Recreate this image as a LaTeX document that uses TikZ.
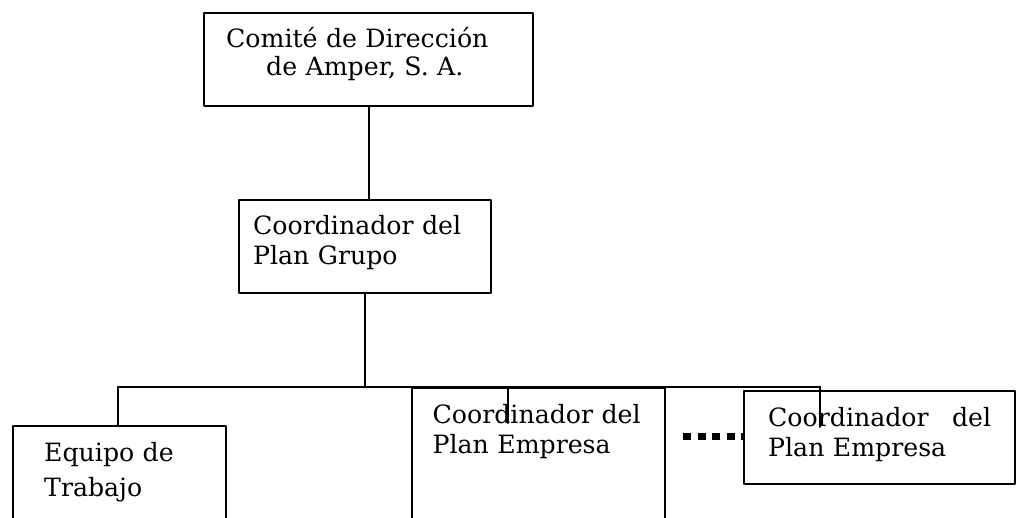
\documentclass[tikz,border=0pt]{standalone}
\usepackage{fontspec}
\setmainfont{DejaVu Serif}
\usepackage{tikz}

\begin{document}
\begin{tikzpicture}[line cap=round,line join=round,x=0.5pt,y=-0.5pt,
  orgbox/.style={draw,line width=1.2pt,anchor=north west,align=left,font=\fontsize{12.6}{15}\selectfont},
  link/.style={line width=1.pt}]
\path[use as bounding box,clip] (0,0) rectangle (1022,518);
\node[orgbox,inner xsep=11pt,text width=142.5pt,minimum height=46.5pt,text depth=22pt,font=\fontsize{12.6}{14}\selectfont] (comite) at (203,12) {Comité de Dirección\\\hspace*{20pt}de Amper, S. A.};
\node[orgbox,inner xsep=7pt,text width=112pt,minimum height=46.5pt,text depth=22pt] (grupo) at (238,199) {Coordinador del\\Plan Grupo};
\node[orgbox,inner xsep=15.5pt,inner ysep=8.3pt,text width=75.5pt,text depth=60pt,font=\fontsize{12.6}{17.5}\selectfont] (equipo) at (12,425) {Equipo de\\Trabajo};
\node[orgbox,inner xsep=10.25pt,inner ysep=8.3pt,text width=106pt,text depth=60pt] (empresaA) at (411,387) {Coordinador del\\Plan Empresa};
\node[orgbox,inner xsep=12pt,text width=111.5pt,minimum height=46.5pt,text depth=21pt] (empresaB) at (743,390) {Coordinador\hfill del\\Plan Empresa};
\coordinate (busL) at (118,387);
\coordinate (busR) at (820,387);
\coordinate (stubA) at (508,387);
\coordinate (stubB) at (820,427);
\coordinate (dotsL) at (683,436);
\draw [link] (comite.south) -- (comite.south |- grupo.north);
\draw [link] (grupo.south) -- (grupo.south |- busL);
\draw [link] (busL) -- (busR);
\draw [link] (busL) -- (busL |- equipo.north);
\draw [link] (stubA) -- (stubA |- 0,423);
\draw [link] (busR) -- (stubB);
\draw [line width=3.5pt,line cap=butt,dash pattern=on 4pt off 3.3pt] (dotsL) -- (dotsL -| empresaB.west);
\end{tikzpicture}
\end{document}
